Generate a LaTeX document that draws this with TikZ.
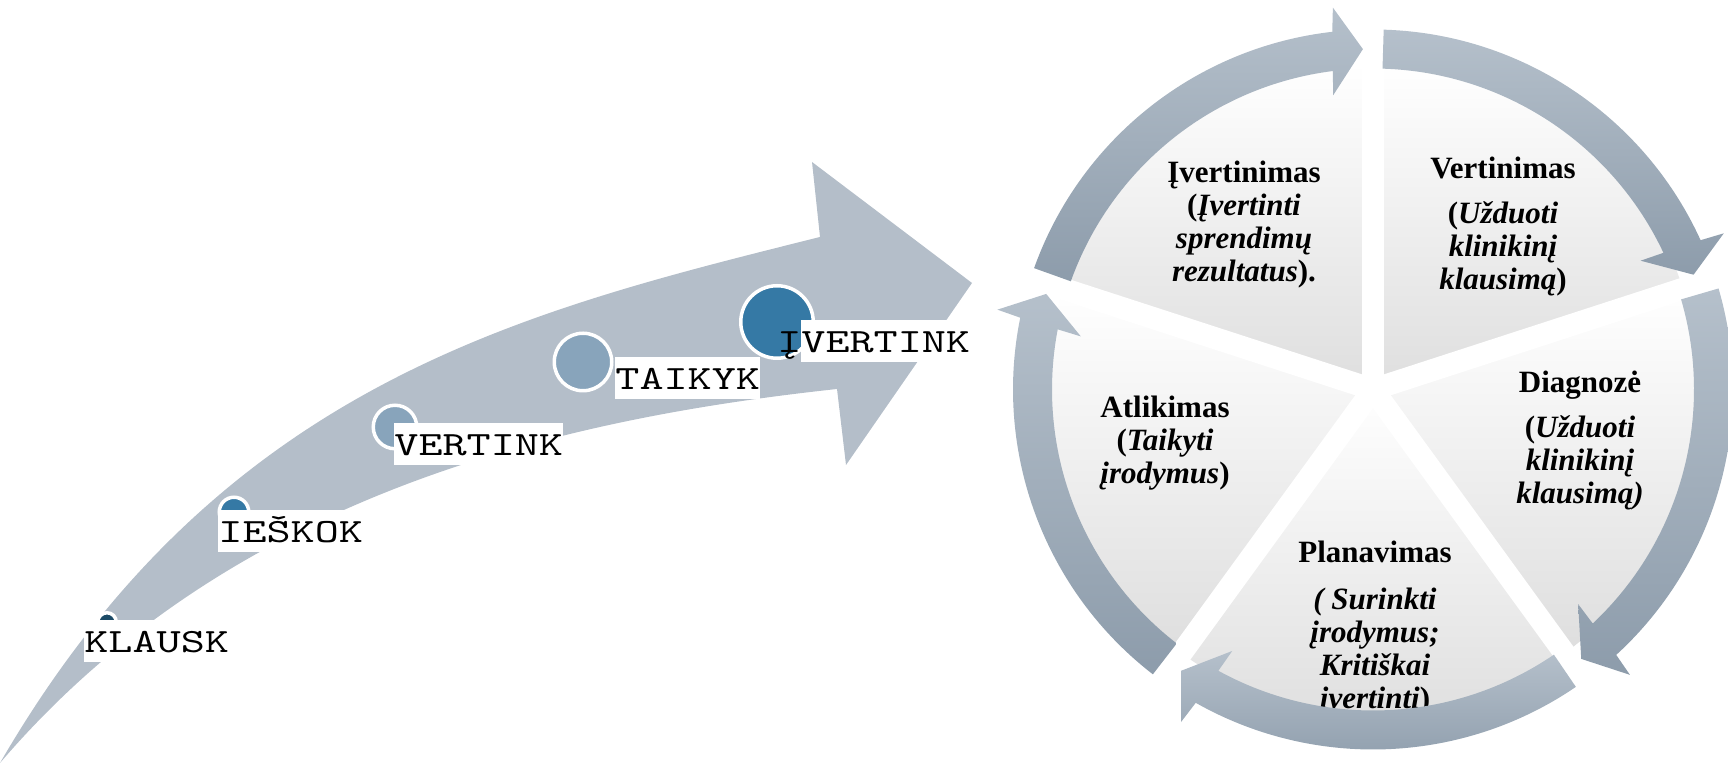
\documentclass[tikz,border=0pt]{standalone}
\usepackage{fontspec}
\setmainfont{Liberation Serif}
\newfontfamily\tagmono{lmmono10-regular.otf}[FakeStretch=1.35]
\usepackage{tikz}
\definecolor{bandgray}{RGB}{180,190,201}
\definecolor{dotdark}{RGB}{27,74,102}
\definecolor{dotblue}{RGB}{53,121,165}
\definecolor{dotlight}{RGB}{136,164,187}
\definecolor{ringtop}{RGB}{181,192,203}
\definecolor{ringbot}{RGB}{141,156,171}
\definecolor{wedgegray}{RGB}{222,222,222}
\newcommand\tagfont{\tagmono\fontsize{17pt}{20pt}\selectfont}
\tikzset{
  band/.style     = {fill=bandgray},
  stage/.style    = {circle, draw=white, line width=1.75pt, inner sep=0pt},
  tag/.style      = {fill=white, inner sep=0pt, anchor=north west,
                     text height=16pt, text depth=5pt, font=\tagfont},
  wedge/.style    = {top color=white, bottom color=wedgegray},
  wedgegap/.style = {white, line width=11pt},
  ringarr/.style  = {top color=ringtop, bottom color=ringbot},
  phase/.style    = {align=center, font=\bfseries\fontsize{15.5pt}{16.5pt}\selectfont},
}

\begin{document}
\begin{tikzpicture}[x=0.5pt, y=0.5pt]
  \useasboundingbox (0,0) rectangle (1728,764);

  % rising arrow
  \fill[band] (0,1) .. controls (220,380) and (520,452) .. (820,527)
    -- (812,602) -- (972,481) -- (846,299) -- (837,375)
    .. controls (560,345) and (230,270) .. (0,1) -- cycle;

  \node[stage, fill=dotdark,  minimum size=9.25pt]  (s1) at (107,142) {};
  \node[stage, fill=dotblue,  minimum size=14.75pt] (s2) at (234,252) {};
  \node[stage, fill=dotlight, minimum size=21.75pt] (s3) at (395,337) {};
  \node[stage, fill=dotlight, minimum size=28.75pt] (s4) at (583,402) {};
  \node[stage, fill=dotblue,  minimum size=36.25pt] (s5) at (777,442) {};

  \node[tag] (t1) at (84,144)  {KLAUSK~};
  \node[tag] (t2) at (218,254) {IEŠKOK~};
  \node[tag] (t3) at (394,341) {VERTINK~};
  \node[tag] (t4) at (615,407) {TAIKYK~};
  \node[tag] (t5) at (801,444) {\llap{Į}VERTINK~};

  % cycle
  \begin{scope}[shift={(1373,374.5)}]
    \foreach \a in {90,18,-54,-126,-198}
      \path[wedge] (0,0) -- (\a:326) arc[start angle=\a, end angle=\a-72, radius=326] -- cycle;
    \foreach \a in {90,18,-54,-126,162}
      \draw[wedgegap] (0,0) -- (\a:330);
  \end{scope}

  \node[phase] (ivert) at (1244,539) {Įvertinimas\\(\textit{Įvertinti}\\\textit{sprendimų}\\\textit{rezultatus}).};
  \node[phase] (vert)  at (1503,537) {Vertinimas\\[6pt](\textit{Užduoti}\\\textit{klinikinį}\\\textit{klausimą})};
  \node[phase] (diag)  at (1580,323) {Diagnozė\\[6pt](\textit{Užduoti}\\\textit{klinikinį}\\\textit{klausimą)}};
  \node[phase] (atlik) at (1165,321) {Atlikimas\\(\textit{Taikyti}\\\textit{įrodymus})};
  \node[phase] (plan)  at (1375,136) {Planavimas\\[7pt]\textit{( Surinkti}\\\textit{įrodymus;}\\\textit{Kritiškai}\\\textit{įvertinti})};

  \begin{scope}[shift={(1373,374.5)}]
    \foreach \a/\b in {160.3/91.7, 88.3/19.7, 16.3/-52.3, -55.7/-124.3, -127.7/-196.3}
      \path[ringarr] (\a:360) arc[start angle=\a, end angle=\b+4.8, radius=360]
        -- (\b+4.3:384) -- (\b:340.5) -- (\b+6:297) -- (\b+5.5:321)
        arc[start angle=\b+5.5, end angle=\a, radius=321] -- cycle;
  \end{scope}
\end{tikzpicture}
\end{document}
